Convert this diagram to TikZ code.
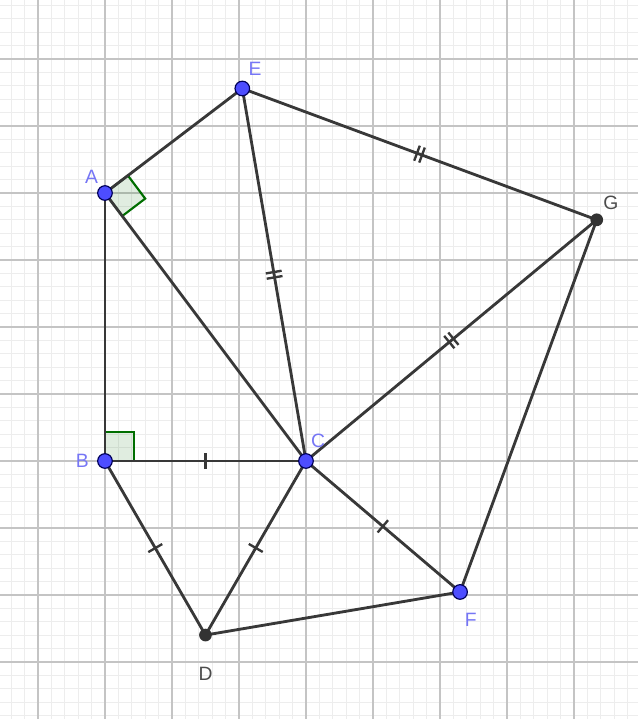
\documentclass[tikz,border=0pt]{standalone}
\usepackage{fontspec}
\setmainfont{Liberation Sans}
\usetikzlibrary{calc,decorations.markings}
\definecolor{geoblue}{RGB}{77,77,255}
\definecolor{geolabel}{RGB}{118,118,245}
\definecolor{geogreen}{RGB}{0,110,0}

\begin{document}
\begin{tikzpicture}[
        font=\fontsize{8.2}{10}\selectfont,
        minorgrid/.style={draw=black!7, line width=0.4pt},
        majorgrid/.style={draw=black!23, line width=0.6pt},
        seg/.style={draw=black!78, line width=1.2pt},
        onetick/.style={postaction={decorate, decoration={markings,
            mark=at position 0.5 with {\draw[black!78, line width=1pt] (0,-0.12) -- (0,0.12);}}}},
        twotick/.style={postaction={decorate, decoration={markings,
            mark=at position 0.5 with {\draw[black!78, line width=1pt]
                (-0.04,-0.12) -- (-0.04,0.12) (0.04,-0.12) -- (0.04,0.12);}}}},
        rightangle/.style={draw=geogreen, fill=geogreen, fill opacity=0.12, line width=0.9pt},
        freept/.style={circle, draw=blue!35!black, fill=geoblue, inner sep=0pt,
            minimum size=6.2pt, line width=0.5pt},
        deppt/.style={circle, fill=black!80, inner sep=0pt, minimum size=5.4pt},
        freelbl/.style={text=geolabel, inner sep=0pt},
        deplbl/.style={text=black!70, inner sep=0pt},
    ]
    \useasboundingbox (-1.567,-3.851) rectangle (7.955,6.881);
    \begin{scope}
        \clip (-1.567,-3.851) rectangle (7.955,6.881);
        \draw[minorgrid] (-2,-4) grid[step=0.2] (8,7);
        \draw[majorgrid] (-2,-4) grid[step=1] (8,7);
    \end{scope}

    % points
    \coordinate (A) at (0,4);
    \coordinate (B) at (0,0);
    \coordinate (C) at (3,0);
    \coordinate (D) at (1.5,-2.598);
    \coordinate (E) at (2.05,5.56);
    \coordinate (F) at (5.30,-1.955);
    \coordinate (G) at (7.34,3.60);

    % right angles
    \draw[rightangle] (B) rectangle ++(0.43,0.43);
    \coordinate (ae) at ($(A)!0.43cm!(E)$);
    \coordinate (ac) at ($(A)!0.43cm!(C)$);
    \draw[rightangle] (A) -- (ae) -- ($(ae)+(ac)-(A)$) -- (ac) -- cycle;

    % segments
    \draw[seg] (A) -- (E);
    \draw[seg, twotick] (E) -- (G);
    \draw[seg] (G) -- (F);
    \draw[seg] (F) -- (D);
    \draw[seg, onetick] (D) -- (B);
    \draw[seg] (B) -- (A);
    \draw[seg] (A) -- (C);
    \draw[seg, twotick] (E) -- (C);
    \draw[seg, twotick] (G) -- (C);
    \draw[seg, onetick] (C) -- (F);
    \draw[seg, onetick] (C) -- (D);
    \draw[seg, onetick] (B) -- (C);

    \foreach \p in {A,B,C,E,F}
        \node[freept] (pt\p) at (\p) {};
    \foreach \p in {D,G}
        \node[deppt] (pt\p) at (\p) {};

    % labels
    \node[freelbl] (lblA) at ($(A)+(-0.2,0.24)$) {A};
    \node[freelbl] (lblB) at ($(B)+(-0.34,0)$) {B};
    \node[freelbl] (lblC) at ($(C)+(0.18,0.3)$) {C};
    \node[deplbl] (lblD) at ($(D)+(0,-0.58)$) {D};
    \node[freelbl] (lblE) at ($(E)+(0.19,0.29)$) {E};
    \node[freelbl] (lblF) at ($(F)+(0.16,-0.41)$) {F};
    \node[deplbl] (lblG) at ($(G)+(0.21,0.26)$) {G};
\end{tikzpicture}
\end{document}
